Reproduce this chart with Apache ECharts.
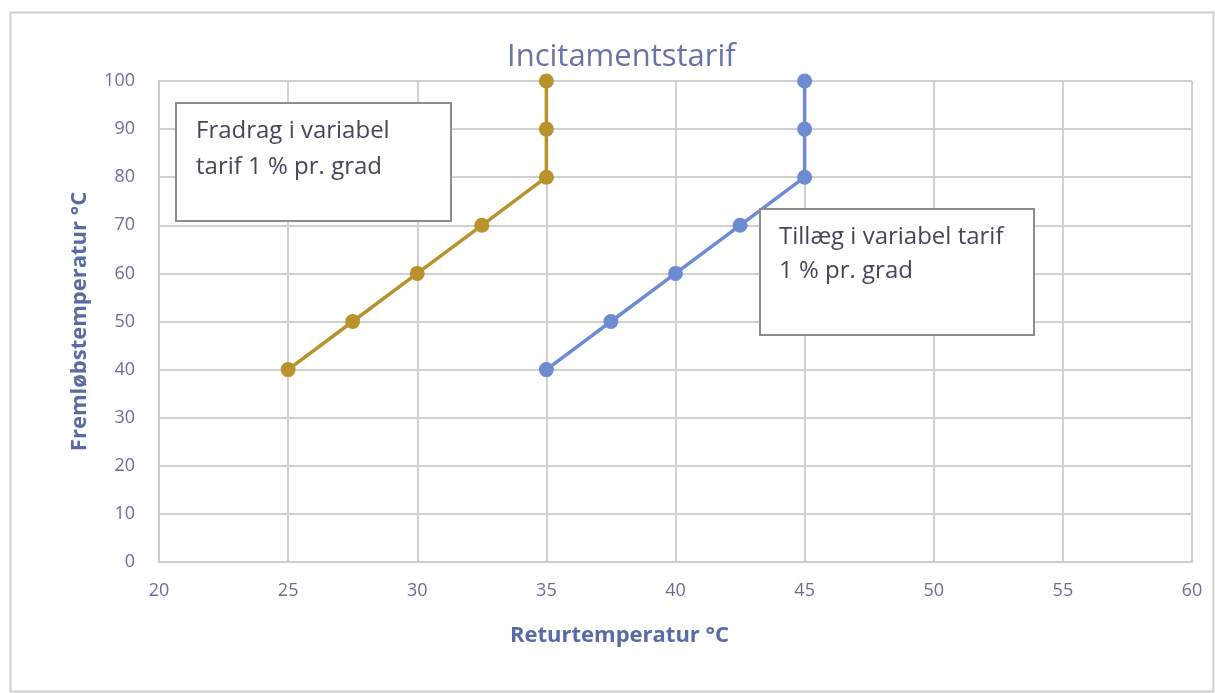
<!DOCTYPE html>
<html><head><meta charset="utf-8">
<script src="https://cdn.jsdelivr.net/npm/echarts@6/dist/echarts.min.js"></script>
<style>html,body{margin:0;padding:0;background:#fff}#c{width:1215px;height:693px}</style>
</head><body><div id="c"></div>
<script>
const titleText = 'Incitamentstarif';
const xName = 'Returtemperatur °C';
const yName = 'Fremløbstemperatur °C';
const fradragX = [25, 27.5, 30, 32.5, 35, 35, 35];
const fradragY = [40, 50, 60, 70, 80, 90, 100];
const tillaegX = [35, 37.5, 40, 42.5, 45, 45, 45];
const tillaegY = [40, 50, 60, 70, 80, 90, 100];
const note1 = ['Fradrag i variabel', 'tarif 1 % pr. grad'];
const note2 = ['Tillæg i variabel tarif', '1 % pr. grad'];

const font = '"Open Sans", sans-serif';
const chart = echarts.init(document.getElementById('c'));
const pairs = (xs, ys) => xs.map((x, i) => [x, ys[i]]);
chart.setOption({
  animation: false,
  backgroundColor: '#fff',
  title: { text: titleText, left: 502, top: 37,
    textStyle: { fontFamily: font, fontSize: 31, fontWeight: 'normal', color: '#6b73a6' } },
  grid: { left: 159, right: 23, top: 81, bottom: 131 },
  xAxis: { type: 'value', min: 20, max: 60, interval: 5,
    name: xName, nameLocation: 'middle', nameGap: 63,
    nameTextStyle: { fontFamily: font, fontSize: 22, fontWeight: 'bold', color: '#5a6aa2', padding: [0, 112, 0, 0] },
    axisLine: { lineStyle: { color: '#c8cdd0', width: 2 } }, axisTick: { show: false },
    axisLabel: { fontFamily: font, fontSize: 18, color: '#6a6e94', margin: 20 },
    splitLine: { lineStyle: { color: '#d0d0d0', width: 2 } } },
  yAxis: { type: 'value', min: 0, max: 100, interval: 10,
    name: yName, nameLocation: 'middle', nameGap: 68,
    nameTextStyle: { fontFamily: font, fontSize: 22, fontWeight: 'bold', color: '#5a6aa2' },
    axisLine: { show: true, lineStyle: { color: '#c8cdd0', width: 2 } }, axisTick: { show: false },
    axisLabel: { fontFamily: font, fontSize: 18, color: '#6a6e94', margin: 24 },
    splitLine: { lineStyle: { color: '#d0d0d0', width: 2 } } },
  series: [
    { type: 'line', data: pairs(fradragX, fradragY), symbol: 'circle', symbolSize: 15,
      lineStyle: { color: '#b8922a', width: 3.5 }, itemStyle: { color: '#b8922a' } },
    { type: 'line', data: pairs(tillaegX, tillaegY), symbol: 'circle', symbolSize: 15,
      lineStyle: { color: '#6d8bd1', width: 3.5 }, itemStyle: { color: '#6d8bd1' } }
  ],
  graphic: [
    { type: 'rect', left: 8, top: 10, shape: { width: 1203, height: 679 },
      style: { fill: 'none', stroke: '#cfcfcf', lineWidth: 2 }, silent: true, z: -1 },
    { type: 'group', left: 175, top: 102, z: 100, children: [
      { type: 'rect', z: 100, shape: { width: 275, height: 118 }, style: { fill: '#ffffff', stroke: '#8c8c8c', lineWidth: 2 } },
      { type: 'text', z: 101, left: 20, top: 10, style: { text: note1.join('\n'), fontFamily: font, fontSize: 24, lineHeight: 36, fill: '#45465e' } }
    ] },
    { type: 'group', left: 759, top: 208, z: 100, children: [
      { type: 'rect', z: 100, shape: { width: 274, height: 126 }, style: { fill: '#ffffff', stroke: '#8c8c8c', lineWidth: 2 } },
      { type: 'text', z: 101, left: 19, top: 11, style: { text: note2.join('\n'), fontFamily: font, fontSize: 24, lineHeight: 34, fill: '#45465e' } }
    ] }
  ]
});
</script></body></html>
